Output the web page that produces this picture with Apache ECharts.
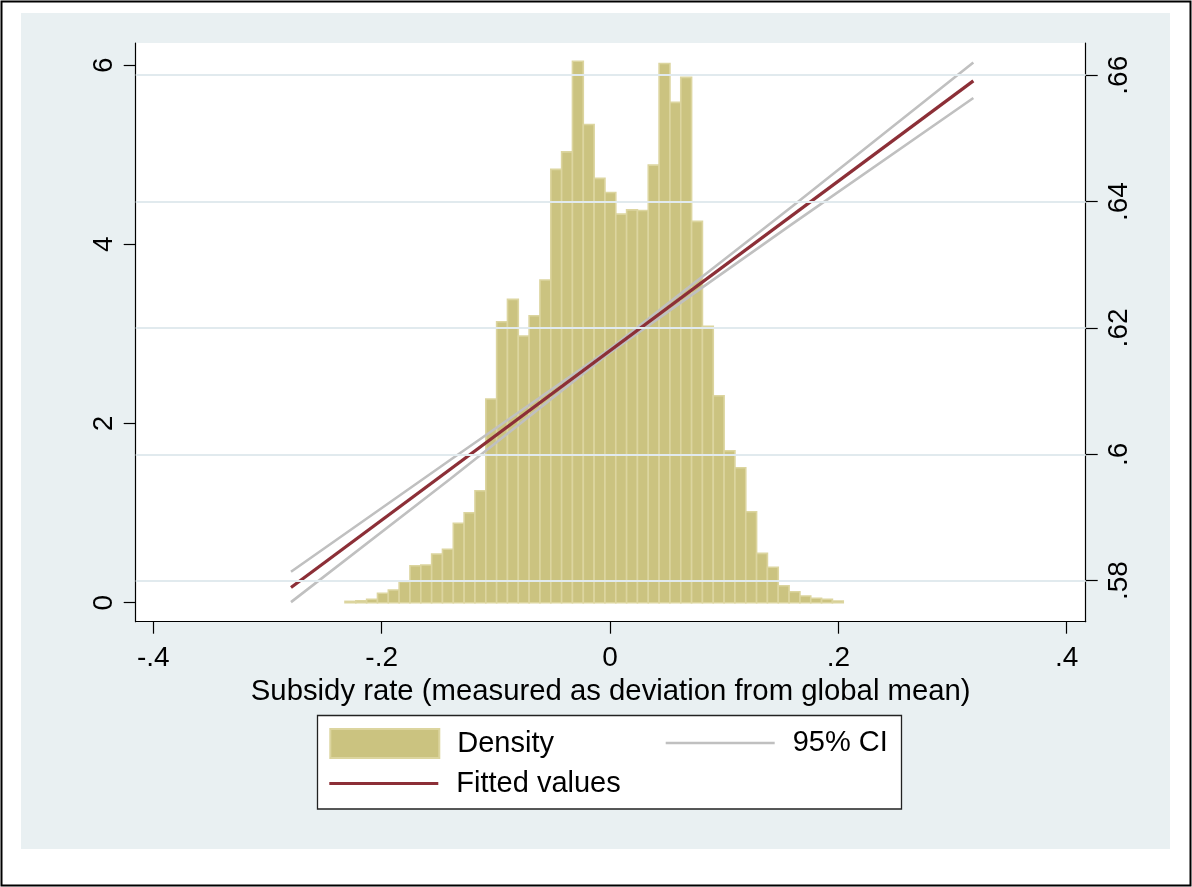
<!DOCTYPE html>
<html><head><meta charset="utf-8">
<script src="https://cdn.jsdelivr.net/npm/echarts@6/dist/echarts.min.js"></script>
<style>html,body{margin:0;padding:0;background:#fff}#c{width:1192px;height:887px}</style>
</head><body><div id="c"></div>
<script>
// Axis ticks
const xTicks = [-0.4, -0.2, 0, 0.2, 0.4];
const densityTicks = [0, 2, 4, 6];
const fitTicks = [0.58, 0.60, 0.62, 0.64, 0.66];

// Histogram (46 bins)
const binStart = -0.2321;
const binWidth = 0.009486;
const density = [
  0.015, 0.02, 0.038, 0.105, 0.142, 0.234, 0.413, 0.421, 0.543, 0.596,
  0.886, 1.004, 1.25, 2.273, 3.135, 3.385, 2.976, 3.202, 3.601, 4.836,
  5.032, 6.044, 5.338, 4.736, 4.579, 4.337, 4.385, 4.378, 4.884, 6.019,
  5.584, 5.863, 4.256, 3.084, 2.31, 1.696, 1.506, 1.015, 0.551, 0.395,
  0.19, 0.123, 0.075, 0.049, 0.038, 0.019
];

// Fitted line and 95% CI (right axis)
const fitX = [-0.2794, 0.3182];
const fitY = [0.5789, 0.6591];
const ciX = [-0.2794, -0.14, 0, 0.16, 0.3182];
const ciUpper = [0.5814, 0.5991, 0.6167, 0.6393, 0.6620];
const ciLower = [0.5766, 0.5961, 0.6161, 0.6365, 0.6564];

const FONT = '"Liberation Sans", Arial, Helvetica, sans-serif';
const fmt = v => {
  const s = String(+(+v).toFixed(3));
  return s.replace(/^(-?)0\./, '$1.');
};

const histData = density.map((d, i) => [binStart + i * binWidth, binStart + (i + 1) * binWidth, d]);
const fitData = fitX.map((x, i) => [x, fitY[i]]);
const upData = ciX.map((x, i) => [x, ciUpper[i]]);
const loData = ciX.map((x, i) => [x, ciLower[i]]);

const FIT_COLOR = '#8c2f37';
const CI_COLOR = '#c0c0c0';
const BAR_FILL = '#cbc380';
const BAR_EDGE = '#dcd59f';

const chart = echarts.init(document.getElementById('c'), null, {renderer: 'canvas'});
const axisLine = {show: true, onZero: false, lineStyle: {color: '#000', width: 1.2}};
const tick = {show: true, length: 12, lineStyle: {color: '#000', width: 1.2}};
const legendText = {fontFamily: FONT, fontSize: 29, color: '#000', padding: [0, 0, 0, 13]};

chart.setOption({
  animation: false,
  backgroundColor: '#fff',
  textStyle: {fontFamily: FONT},
  graphic: [
    {type: 'rect', z: -30, shape: {x: 1.5, y: 1.5, width: 1189, height: 884}, style: {fill: '#fff', stroke: '#000', lineWidth: 2}},
    {type: 'rect', z: -29, shape: {x: 21, y: 13, width: 1149, height: 836}, style: {fill: '#e9f0f2'}},
    {type: 'rect', z: -28, shape: {x: 317.5, y: 715.5, width: 584, height: 93.5}, style: {fill: '#fff', stroke: '#222', lineWidth: 1.3}}
  ],
  grid: {
    left: 135.7, right: 106.3, top: 43, bottom: 265.3,
    show: true, backgroundColor: '#fff', borderWidth: 0, borderColor: 'transparent'
  },
  legend: [
    {
      left: 329.3, top: 728, padding: 0, itemWidth: 109, itemHeight: 29,
      textStyle: legendText,
      data: [{name: 'Density', icon: 'rect', itemStyle: {color: BAR_FILL, borderColor: BAR_EDGE, borderWidth: 2}}]
    },
    {
      left: 329.3, top: 769, padding: 0, itemWidth: 109, itemHeight: 3.2,
      textStyle: legendText,
      data: [{name: 'Fitted values', icon: 'rect', itemStyle: {color: FIT_COLOR, borderWidth: 0}}]
    },
    {
      left: 665.7, top: 728.5, padding: 0, itemWidth: 109, itemHeight: 2.6,
      textStyle: legendText,
      data: [{name: '95% CI', icon: 'rect', itemStyle: {color: CI_COLOR, borderWidth: 0}}]
    }
  ],
  xAxis: {
    type: 'value', min: -0.4154, max: 0.4166,
    name: 'Subsidy rate (measured as deviation from global mean)',
    nameLocation: 'middle', nameGap: 43,
    nameTextStyle: {fontFamily: FONT, fontSize: 29.3, color: '#000'},
    axisLine: axisLine,
    axisTick: Object.assign({customValues: xTicks}, tick),
    axisLabel: {customValues: xTicks, formatter: fmt, fontFamily: FONT, fontSize: 28, color: '#000', margin: 23},
    splitLine: {show: false}
  },
  yAxis: [
    {
      type: 'value', min: -0.212, max: 6.247, position: 'left',
      axisLine: axisLine,
      axisTick: Object.assign({customValues: densityTicks}, tick),
      axisLabel: {customValues: densityTicks, formatter: fmt, rotate: 90, fontFamily: FONT, fontSize: 28, color: '#000', margin: 17},
      splitLine: {show: false}
    },
    {
      type: 'value', min: 0.5735, max: 0.6651, position: 'right',
      axisLine: axisLine,
      axisTick: Object.assign({customValues: fitTicks}, tick),
      axisLabel: {customValues: fitTicks, formatter: fmt, rotate: 90, fontFamily: FONT, fontSize: 28, color: '#000', margin: 20},
      splitLine: {show: false}
    }
  ],
  series: [
    {
      name: 'grid', type: 'line', xAxisIndex: 0, yAxisIndex: 1, data: [], z: 1, silent: true,
      markLine: {
        silent: true, symbol: 'none', label: {show: false},
        lineStyle: {color: '#e1eaee', width: 2, type: 'solid'},
        data: fitTicks.map(v => ({yAxis: v}))
      }
    },
    {
      name: 'Density', type: 'custom', xAxisIndex: 0, yAxisIndex: 0, z: 2,
      itemStyle: {color: BAR_FILL},
      encode: {x: [0, 1], y: 2},
      data: histData,
      renderItem: function (params, api) {
        const p0 = api.coord([api.value(0), api.value(2)]);
        const p1 = api.coord([api.value(1), 0]);
        return {
          type: 'rect',
          shape: {x: p0[0], y: p0[1], width: p1[0] - p0[0], height: p1[1] - p0[1]},
          style: {fill: BAR_FILL, stroke: BAR_EDGE, lineWidth: 1.6}
        };
      }
    },
    {
      name: '95% CI', type: 'line', xAxisIndex: 0, yAxisIndex: 1, z: 3, symbol: 'none', showSymbol: false,
      itemStyle: {color: CI_COLOR}, lineStyle: {color: CI_COLOR, width: 2.6}, data: upData
    },
    {
      name: '95% CI', type: 'line', xAxisIndex: 0, yAxisIndex: 1, z: 3, symbol: 'none', showSymbol: false,
      itemStyle: {color: CI_COLOR}, lineStyle: {color: CI_COLOR, width: 2.6}, data: loData
    },
    {
      name: 'Fitted values', type: 'line', xAxisIndex: 0, yAxisIndex: 1, z: 4, symbol: 'none', showSymbol: false,
      itemStyle: {color: FIT_COLOR}, lineStyle: {color: FIT_COLOR, width: 3.2}, data: fitData
    }
  ]
});
</script></body></html>
